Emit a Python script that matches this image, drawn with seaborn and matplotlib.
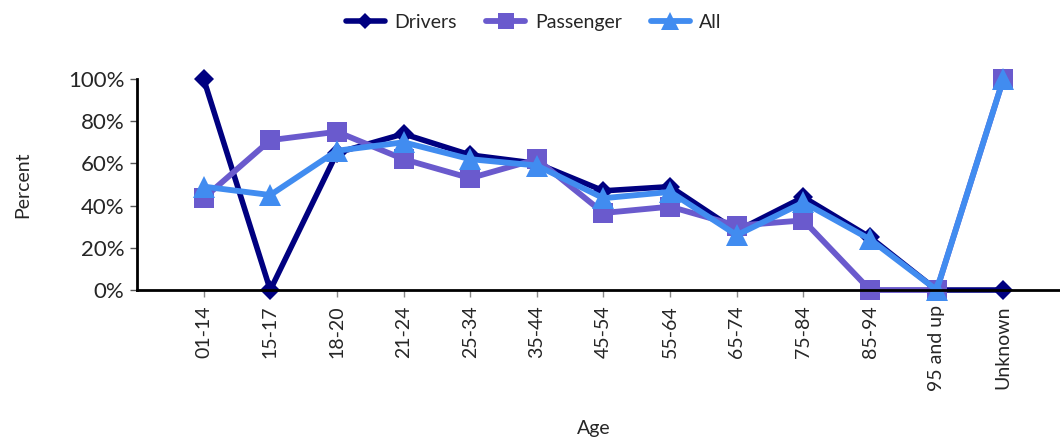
import matplotlib
matplotlib.use("Agg")
import matplotlib.pyplot as plt
import seaborn as sns
import pandas as pd
from matplotlib.ticker import PercentFormatter

ages = ["01-14", "15-17", "18-20", "21-24", "25-34", "35-44", "45-54",
        "55-64", "65-74", "75-84", "85-94", "95 and up", "Unknown"]
drivers = [100, 0, 65, 74, 64, 60, 47, 49, 28, 44, 25, 0, 0]
passenger = [43.5, 71, 75, 62, 53, 62, 36.5, 39.5, 30.5, 33, 0, 0, 100]
all_ = [49, 45, 66, 70, 62, 59, 43.5, 46.5, 26, 41.5, 24, 0, 100]

series_names = ["Drivers", "Passenger", "All"]
colors = ["#000080", "#6A5ACD", "#418CF0"]
markers = ["D", "s", "^"]
msizes = [10, 14.5, 15.5]
lwidths = [4.0, 4.2, 4.2]

sns.set_theme(style="white")
plt.rcParams['font.family'] = ['Lato', 'DejaVu Sans']

fig = plt.figure(figsize=(10.6, 4.4), dpi=100)
ax = fig.add_axes([137/1060, 150/440, (1060-137)/1060, 211/440])

for name, vals, c, m, ms, lw in zip(series_names, [drivers, passenger, all_],
                                     colors, markers, msizes, lwidths):
    df = pd.DataFrame({"Age": ages, "Percent": vals})
    sns.lineplot(data=df, x="Age", y="Percent", ax=ax, color=c, marker=m,
                 markersize=ms, linewidth=lw, markeredgewidth=0, label=name,
                 sort=False, clip_on=False)

ax.set_ylim(0, 100)
ax.set_xlim(-1, 12.85)
ax.yaxis.set_major_formatter(PercentFormatter(decimals=0))
ax.set_yticks([0, 20, 40, 60, 80, 100])
ax.set_xticks(range(len(ages)))
ax.set_xticklabels(ages, rotation=90)
ax.tick_params(axis="y", labelsize=16, left=True, length=5, width=1, color="#555555", pad=4)
ax.tick_params(axis="x", labelsize=14, bottom=True, length=5, width=1, color="#888888", pad=6)
for s in ["top", "right"]:
    ax.spines[s].set_visible(False)
for s in ["left", "bottom"]:
    ax.spines[s].set_color("black")
    ax.spines[s].set_linewidth(2)
ax.grid(False)
ax.set_xlabel("Age", fontsize=14)
ax.set_ylabel("Percent", fontsize=14)
ax.xaxis.set_label_coords(0.495, -0.615)
ax.yaxis.set_label_coords(-0.115, 0.5)

handles, labels = ax.get_legend_handles_labels()
ax.legend(handles, labels, loc="upper center", bbox_to_anchor=(0.43, 1.39),
          ncol=3, frameon=False, fontsize=14, handlelength=2.0,
          columnspacing=1.5, handletextpad=0.5, markerscale=0.8)

fig.savefig("out.png", dpi=100)
